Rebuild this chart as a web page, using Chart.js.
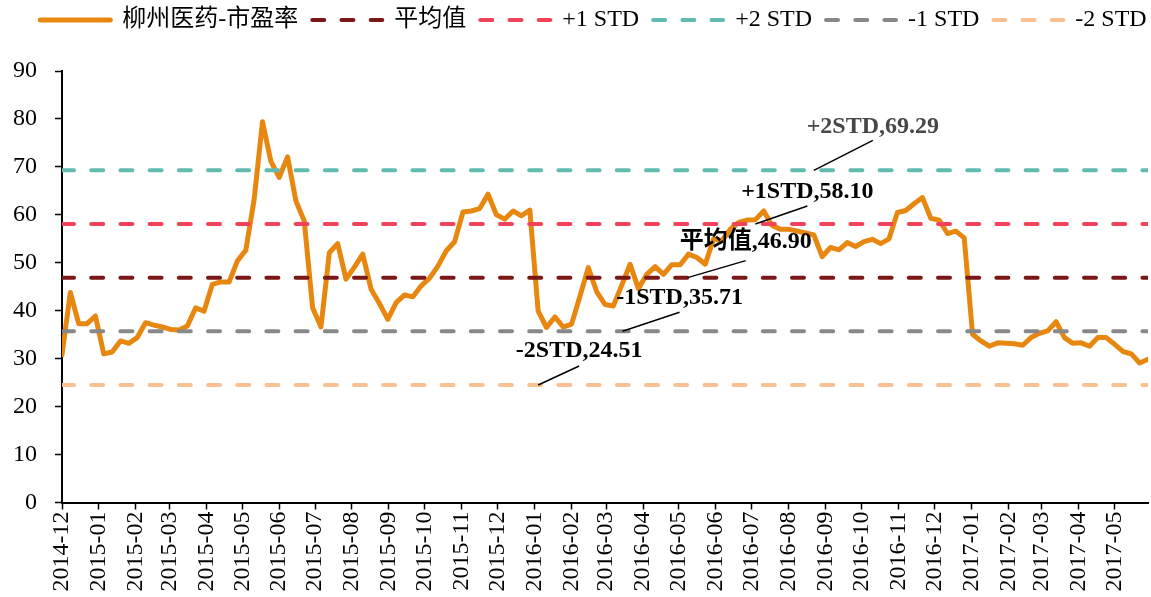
<!DOCTYPE html>
<html>
<head>
<meta charset="utf-8">
<title>柳州医药-市盈率</title>
<script src="https://cdn.jsdelivr.net/npm/chart.js@4.4.1/dist/chart.umd.min.js"></script>
<style>
  html, body { margin: 0; padding: 0; background: #fff; }
  #wrap { width: 1151px; height: 597px; }
</style>
</head>
<body>
<div id="wrap"><canvas id="pe-chart"></canvas></div>
<script>
// weekly PE readings, first week ends 2014-12-05
const firstWeek = '2014-12-05';
const peValues = [
  30.8, 43.8, 37.3, 37.3, 38.9, 31.0, 31.4, 33.7, 33.2, 34.4,
  37.5, 37.0, 36.6, 36.1, 36.0, 36.8, 40.6, 39.9, 45.5, 46.0,
  46.0, 50.4, 52.6, 63.2, 79.4, 71.2, 67.8, 72.1, 62.9, 58.7,
  40.6, 36.6, 52.1, 54.0, 46.6, 49.1, 51.8, 44.5, 41.5, 38.2,
  41.7, 43.3, 42.9, 45.2, 46.8, 49.3, 52.5, 54.4, 60.6, 60.8,
  61.3, 64.3, 60.0, 59.1, 60.8, 59.8, 61.0, 39.9, 36.5, 38.7,
  36.6, 37.2, 43.0, 49.0, 44.0, 41.3, 41.0, 45.3, 49.7, 44.6,
  47.6, 49.2, 47.6, 49.6, 49.6, 51.8, 51.1, 49.7, 55.0, 54.6,
  57.0, 58.4, 58.9, 59.0, 60.8, 57.8, 57.0, 57.0, 56.6, 56.2,
  55.8, 51.3, 53.2, 52.7, 54.2, 53.4, 54.4, 54.9, 54.0, 55.0,
  60.5, 60.9, 62.3, 63.6, 59.3, 58.9, 56.1, 56.6, 55.2, 35.1,
  33.7, 32.6, 33.3, 33.2, 33.1, 32.8, 34.4, 35.3, 35.8, 37.7,
  34.4, 33.2, 33.3, 32.6, 34.4, 34.4, 33.0, 31.5, 31.0, 29.1,
  29.9
];
const monthLabels = [
  '2014-12',
  '2015-01', '2015-02', '2015-03', '2015-04', '2015-05', '2015-06',
  '2015-07', '2015-08', '2015-09', '2015-10', '2015-11', '2015-12',
  '2016-01', '2016-02', '2016-03', '2016-04', '2016-05', '2016-06',
  '2016-07', '2016-08', '2016-09', '2016-10', '2016-11', '2016-12',
  '2017-01', '2017-02', '2017-03', '2017-04', '2017-05'
];
const bandNames = ['平均值', '+1 STD', '+2 STD', '-1 STD', '-2 STD'];
const bandValues = [46.90, 58.10, 69.29, 35.71, 24.51];
const bandNotes = ['平均值,46.90', '+1STD,58.10', '+2STD,69.29', '-1STD,35.71', '-2STD,24.51'];

const SERIF = "'Liberation Serif', 'Noto Sans CJK SC', serif";
const bandColors = ['#7A1717', '#F0435A', '#62BBB0', '#888888', '#F9C192'];
const noteColors = ['#000', '#000', '#474747', '#000', '#000'];
// leader line: start week on the band, pixel offset of its far end, text gap
const noteLayout = [
  { week: 74.9, dx: 58, dy: -17, gap: 13 },
  { week: 83.0, dx: 52, dy: -18, gap: 8 },
  { week: 90.0, dx: 59, dy: -30, gap: 7 },
  { week: 67.1, dx: 57, dy: -19, gap: 8 },
  { week: 57.0, dx: 41, dy: -19, gap: 9 }
];

const DAY = 86400000;
const startMs = Date.parse(firstWeek);
// month ticks fall on the same day of month as the first week (date axis)
const tickWeeks = monthLabels.map(m => (Date.parse(m + firstWeek.slice(7)) - startMs) / DAY / 7);
const lastWeek = peValues.length - 1;

const datasets = [{
  label: '柳州医药-市盈率',
  data: peValues.map((v, i) => ({ x: i, y: v })),
  borderColor: '#E8870F',
  backgroundColor: '#E8870F',
  borderWidth: 5,
  borderJoinStyle: 'round',
  borderCapStyle: 'round',
  pointRadius: 0,
  tension: 0,
  order: 1
}];
bandNames.forEach((name, k) => {
  datasets.push({
    label: name,
    data: [{ x: 0, y: bandValues[k] }, { x: lastWeek, y: bandValues[k] }],
    borderColor: bandColors[k],
    backgroundColor: bandColors[k],
    borderWidth: 4,
    borderDash: [12, 17.2],
    borderCapStyle: 'round',
    pointRadius: 0,
    order: 0
  });
});

// extra room under the legend, and nudge the legend row to the right
const legendSpacer = {
  id: 'legendSpacer',
  beforeInit(chart) {
    if (!chart.legend) return;
    const fit = chart.legend.fit;
    chart.legend.fit = function () {
      fit.call(this);
      this.height += 29;
    };
  },
  afterLayout(chart) {
    if (!chart.legend) return;
    chart.legend.left += 22;
    chart.legend.right += 22;
  }
};

const stdNotes = {
  id: 'stdNotes',
  afterDatasetsDraw(chart) {
    const { ctx, scales: { x, y } } = chart;
    ctx.save();
    ctx.font = 'bold 24px ' + SERIF;
    ctx.textAlign = 'center';
    ctx.textBaseline = 'alphabetic';
    noteLayout.forEach((n, k) => {
      const x0 = x.getPixelForValue(n.week);
      const y0 = y.getPixelForValue(bandValues[k]);
      const x1 = x0 + n.dx, y1 = y0 + n.dy;
      ctx.strokeStyle = '#000';
      ctx.lineWidth = 1.5;
      ctx.beginPath();
      ctx.moveTo(x0, y0);
      ctx.lineTo(x1, y1);
      ctx.stroke();
      ctx.fillStyle = noteColors[k];
      ctx.fillText(bandNotes[k], x1, y1 - n.gap);
    });
    ctx.restore();
  }
};

new Chart(document.getElementById('pe-chart'), {
  type: 'line',
  data: { datasets },
  options: {
    responsive: true,
    maintainAspectRatio: false,
    animation: false,
    devicePixelRatio: 1,
    layout: { padding: { top: -6, left: -5, right: 3, bottom: 3.5 } },
    plugins: {
      tooltip: { enabled: false },
      legend: {
        display: true,
        position: 'top',
        labels: {
          color: '#000',
          font: { family: SERIF, size: 24 },
          usePointStyle: true,
          pointStyleWidth: 70,
          padding: 14,
          generateLabels(chart) {
            const items = Chart.defaults.plugins.legend.labels.generateLabels(chart);
            items.forEach(it => {
              const ds = chart.data.datasets[it.datasetIndex];
              it.pointStyle = 'line';
              it.strokeStyle = ds.borderColor;
              it.lineWidth = ds.borderWidth;
              it.lineDash = ds.borderDash || [];
              it.lineCap = ds.borderCapStyle;
            });
            return items.sort((a, b) => a.datasetIndex - b.datasetIndex);
          }
        }
      }
    },
    scales: {
      x: {
        type: 'linear',
        min: 0,
        max: lastWeek,
        afterBuildTicks: scale => { scale.ticks = tickWeeks.map(v => ({ value: v })); },
        grid: { drawOnChartArea: false, tickLength: 7, color: '#000', tickWidth: 1.5 },
        border: { color: '#000', width: 2 },
        ticks: {
          autoSkip: false,
          minRotation: 90,
          maxRotation: 90,
          padding: 2,
          color: '#000',
          font: { family: SERIF, size: 24 },
          callback: (value, index) => monthLabels[index]
        }
      },
      y: {
        min: 0,
        max: 90,
        grid: { drawOnChartArea: false, tickLength: 7, color: '#000', tickWidth: 1.5 },
        border: { color: '#000', width: 2 },
        ticks: {
          stepSize: 10,
          padding: 18,
          color: '#000',
          font: { family: SERIF, size: 24 }
        }
      }
    }
  },
  plugins: [legendSpacer, stdNotes]
});
</script>
</body>
</html>
